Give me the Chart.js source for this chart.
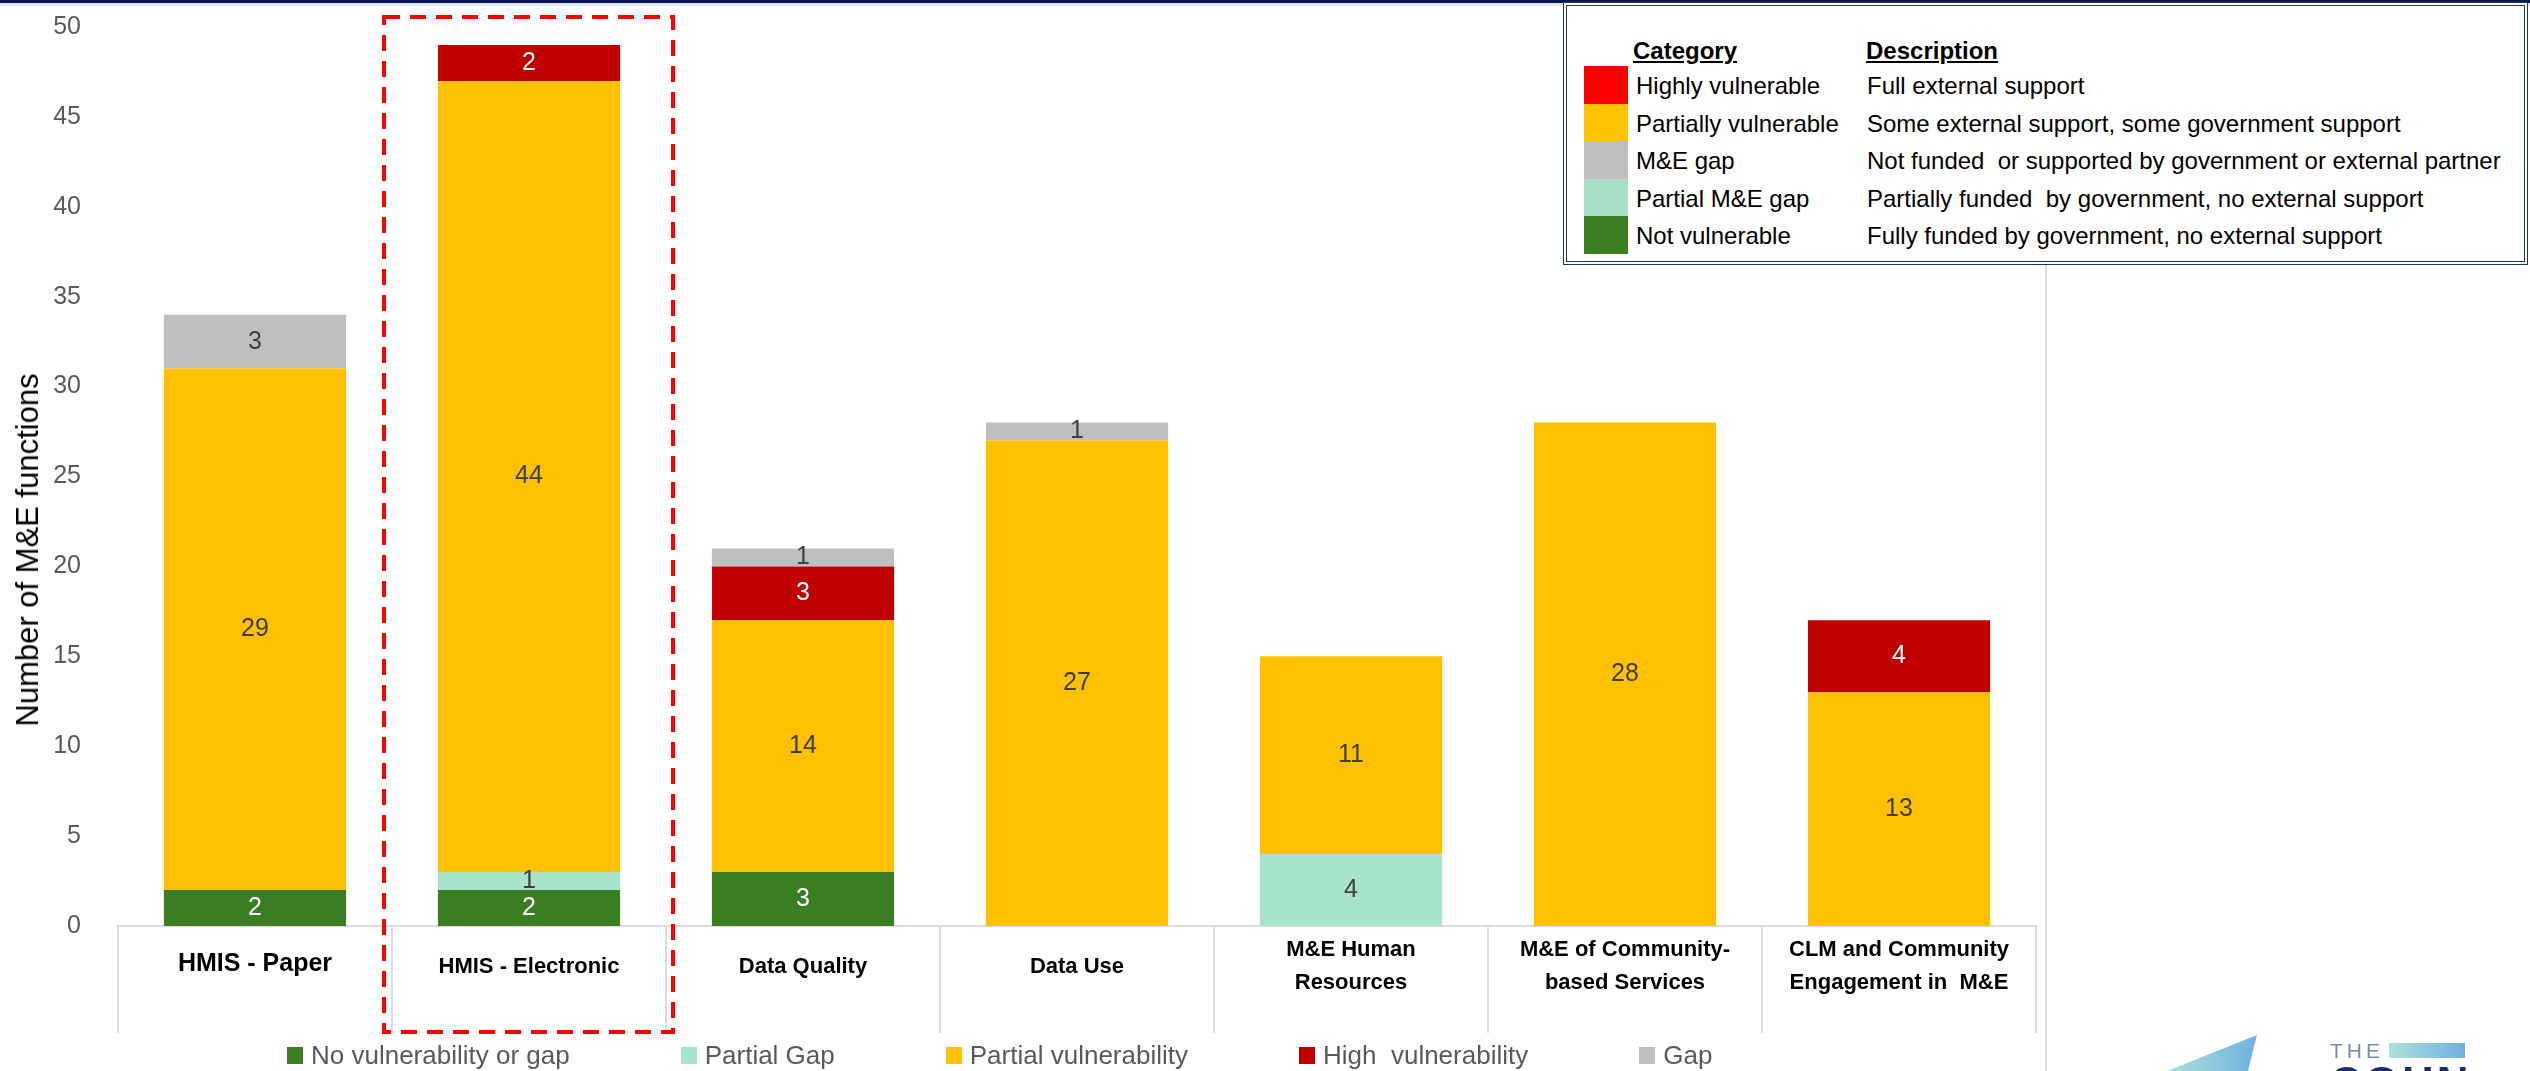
<!DOCTYPE html>
<html>
<head>
<meta charset="utf-8">
<title>M&amp;E functions by vulnerability</title>
<script src="https://cdn.jsdelivr.net/npm/chart.js@4.4.1/dist/chart.umd.min.js"></script>
<style>
  body { margin: 0; background: #fff; font-family: "Liberation Sans", Arial, sans-serif; }
  #page { position: relative; width: 2530px; height: 1071px; overflow: hidden; background: #fff; }
  #topbar { position: absolute; left: 0; top: 0; width: 2530px; height: 3px; background: #0b1650; }
  #topbar2 { position: absolute; left: 0; top: 3px; width: 2530px; height: 3px; background: #e4e6ee; }
  #chartWrap { position: absolute; left: 0; top: 0; width: 2530px; height: 1071px; }
  #ytitle { position: absolute; left: 28px; top: 550px; transform: translate(-50%, -50%) rotate(-90deg);
            white-space: nowrap; font-size: 31px; color: #000; }
  #edge { position: absolute; left: 2045px; top: 263px; width: 2px; height: 808px; background: #dcdcdc; }
  #keyBox { position: absolute; left: 1563px; top: 2px; width: 965px; height: 263px; box-sizing: border-box;
            border: 4px double #1e3a4f; background: #fff; }
  .keyRow { position: absolute; left: 0; height: 38px; line-height: 38px; font-size: 24px; color: #000; white-space: nowrap; }
  .keySw { position: absolute; left: 17px; top: 0; width: 44px; height: 38px; }
  .keyCat { position: absolute; left: 69px; }
  .keyDesc { position: absolute; left: 300px; }
  .keyHead { font-weight: bold; text-decoration: underline; }
  #legend { position: absolute; left: 287px; top: 1040px; display: flex; gap: 111px; font-size: 26px; color: #595959; white-space: nowrap; }
  .lgItem { display: flex; align-items: center; }
  .lgBox { width: 16px; height: 17px; margin-right: 8px; }
  #logo { position: absolute; left: 2140px; top: 1000px; }
</style>
</head>
<body>
<div id="page">
  <div id="chartWrap"><canvas id="myChart"></canvas></div>
  <div id="topbar"></div>
  <div id="topbar2"></div>
  <div id="ytitle">Number of M&amp;E functions</div>
  <div id="edge"></div>
  <div id="keyBox"></div>
  <div id="legend"></div>
  <svg id="logo" width="390" height="71">
    <defs>
      <linearGradient id="lg1" x1="0" x2="1" y1="0" y2="0">
        <stop offset="0" stop-color="#aee0da"/>
        <stop offset="1" stop-color="#70b0e0"/>
      </linearGradient>
    </defs>
    <polygon points="117,35 27,71 108,71" fill="url(#lg1)"/>
    <text x="190" y="58" font-size="21" letter-spacing="4" fill="#7b8bb0" font-family="Liberation Sans, Arial">THE</text>
    <rect x="249" y="43" width="76" height="15" fill="url(#lg1)"/>
    <text x="190" y="98" font-size="44" font-weight="bold" letter-spacing="3" fill="#1d2b66" font-family="Liberation Sans, Arial">COHN</text>
  </svg>
</div>
<script>
// categories along the x axis
var categories = [
  "HMIS - Paper",
  "HMIS - Electronic",
  "Data Quality",
  "Data Use",
  ["M&E Human", "Resources"],
  ["M&E of Community-", "based Services"],
  ["CLM and Community", "Engagement in  M&E"]
];

// stacked series, bottom to top
var seriesNames = ["No vulnerability or gap", "Partial Gap", "Partial vulnerability", "High  vulnerability", "Gap"];
var noVulnerability   = [2, 2, 3, 0, 0, 0, 0];
var partialGap        = [0, 1, 0, 0, 4, 0, 0];
var partialVulnerable = [29, 44, 14, 27, 11, 28, 13];
var highVulnerable    = [0, 2, 3, 0, 0, 0, 4];
var gap               = [3, 0, 1, 1, 0, 0, 0];

var seriesColors = ["#3b7d23", "#a8e3cc", "#ffc000", "#c00000", "#bfbfbf"];
var labelColors  = ["#ffffff", "#404040", "#404040", "#ffffff", "#404040"];

var yTicksMax = 50;
var yTicksStep = 5;
var highlightIndex = 1;

// key table at top right
var keyHeader = ["Category", "Description"];
var keyCategories = ["Highly vulnerable", "Partially vulnerable", "M&E gap", "Partial M&E gap", "Not vulnerable"];
var keyDescriptions = [
  "Full external support",
  "Some external support, some government support",
  "Not funded\u00a0 or supported by government or external partner",
  "Partially funded\u00a0 by government, no external support",
  "Fully funded by government, no external support"
];
var keyColors = ["#ff0000", "#ffc000", "#bfbfbf", "#a9dfc8", "#3a7d22"];

var myChart;

function buildKey() {
  var box = document.getElementById("keyBox");
  var html = '<div class="keyRow" style="top:26px"><span class="keyCat keyHead" style="left:66px">' + keyHeader[0] +
             '</span><span class="keyDesc keyHead" style="left:299px">' + keyHeader[1] + '</span></div>';
  for (var i = 0; i < keyCategories.length; i++) {
    var top = 61 + i * 37.5;
    html += '<div class="keyRow" style="top:' + top + 'px">' +
            '<div class="keySw" style="background:' + keyColors[i] + ';top:-1px"></div>' +
            '<span class="keyCat">' + keyCategories[i].replace("&", "&amp;") + '</span>' +
            '<span class="keyDesc">' + keyDescriptions[i] + '</span></div>';
  }
  box.innerHTML = html;
}

function buildLegend() {
  var html = "";
  for (var i = 0; i < seriesNames.length; i++) {
    html += '<div class="lgItem"><div class="lgBox" style="background:' + seriesColors[i] + '"></div>' +
            '<span>' + seriesNames[i].replace(/  /g, " \u00a0") + '</span></div>';
  }
  document.getElementById("legend").innerHTML = html;
}

// writes the value in the middle of each stacked segment
var segmentLabels = {
  id: "segmentLabels",
  afterDatasetsDraw: function (chart) {
    var ctx = chart.ctx;
    ctx.save();
    ctx.font = '25px "Liberation Sans", Arial, sans-serif';
    ctx.textAlign = "center";
    ctx.textBaseline = "middle";
    chart.data.datasets.forEach(function (ds, i) {
      chart.getDatasetMeta(i).data.forEach(function (bar, j) {
        var v = ds.data[j];
        if (!v) return;
        ctx.fillStyle = labelColors[i];
        ctx.fillText(v, bar.x, (bar.y + bar.base) / 2);
      });
    });
    ctx.restore();
  }
};

// red dashed frame around the highlighted category
var highlightBox = {
  id: "highlightBox",
  afterDraw: function (chart) {
    var xs = chart.scales.x;
    var step = xs.width / categories.length;
    var c = xs.getPixelForValue(highlightIndex);
    var top = chart.chartArea.top - 10;
    var ctx = chart.ctx;
    ctx.save();
    ctx.strokeStyle = "#ff0000";
    ctx.lineWidth = 4;
    ctx.setLineDash([16, 10]);
    ctx.strokeRect(c - step / 2 - 8, top, step + 15, xs.bottom - top - 1);
    ctx.restore();
  }
};

function createGraph() {
  var sets = [noVulnerability, partialGap, partialVulnerable, highVulnerable, gap];
  var datasets = [];
  for (var i = 0; i < sets.length; i++) {
    datasets.push({
      label: seriesNames[i],
      data: sets[i],
      backgroundColor: seriesColors[i],
      borderWidth: 0,
      categoryPercentage: 0.665,
      barPercentage: 1
    });
  }

  var config = {
    type: "bar",
    data: { labels: categories, datasets: datasets },
    options: {
      responsive: true,
      maintainAspectRatio: false,
      animation: false,
      layout: { padding: { top: 27, right: 494, bottom: 38, left: 0 } },
      plugins: {
        legend: { display: false },
        tooltip: { enabled: false }
      },
      scales: {
        x: {
          stacked: true,
          grid: {
            display: true,
            offset: true,
            drawOnChartArea: false,
            drawTicks: true,
            tickLength: 107,
            color: "#dcdcdc",
            lineWidth: 2
          },
          border: { display: true, color: "#dcdcdc", width: 2 },
          ticks: {
            autoSkip: false,
            maxRotation: 0,
            minRotation: 0,
            padding: -83,
            crossAlign: "center",
            color: "#000",
            font: function (ctx) {
              return { family: '"Liberation Sans", Arial, sans-serif', weight: "bold", size: ctx.index === 0 ? 25 : 22, lineHeight: 1.5 };
            }
          },
          afterFit: function (scale) { scale.height = 107; }
        },
        y: {
          stacked: true,
          min: 0,
          max: yTicksMax,
          grid: { display: false },
          border: { display: false },
          ticks: {
            stepSize: yTicksStep,
            padding: 29,
            color: "#595959",
            font: { family: '"Liberation Sans", Arial, sans-serif', size: 25 }
          },
          afterFit: function (scale) {
            scale.width = 118;
            // the tick padding would otherwise push the plot top down
            scale.paddingTop = 0;
            scale.paddingBottom = 0;
          }
        }
      }
    },
    plugins: [segmentLabels, highlightBox]
  };

  myChart = new Chart(document.getElementById("myChart"), config);
}

buildKey();
buildLegend();
createGraph();
</script>
</body>
</html>
